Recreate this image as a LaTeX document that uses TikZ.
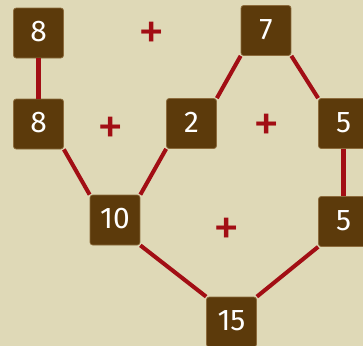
\documentclass[tikz,border=0pt]{standalone}
\usepackage{fontspec}
\setmainfont{Fira Sans}
\usepackage{tikz}

\begin{document}
\begin{tikzpicture}[x=0.02cm, y=-0.02cm]

% Colori
\definecolor{colSfondo}{HTML}{DFD9B7}
\definecolor{colCasella}{HTML}{5C3A0B}
\definecolor{colBordo}{HTML}{8C6B3C}
\definecolor{colRosso}{HTML}{A20E14}

\tikzset{
  casella/.style={fill=colCasella, draw=colBordo, line width=0.4pt, rounded corners=1.5pt,
    minimum width=1cm, minimum height=1cm, inner sep=0pt, text=white,
    text height=1em, font=\fontsize{17}{20}\selectfont},
  ramo/.style={draw=colRosso, line width=2.3pt},
  piu/.style={text=colRosso, font=\fontsize{30}{34}\selectfont, inner sep=0pt}
}

% Sfondo
\fill[colSfondo] (0,0) rectangle (363,346);
\useasboundingbox (0,0) rectangle (363,346);
\clip (0,0) rectangle (363,346);

% Caselle
\node[casella] (otto1) at (38.5,33) {8};
\node[casella] (otto2) at (38.5,124) {8};
\node[casella] (due) at (191.5,123.5) {2};
\node[casella] (sette) at (266,30.5) {7};
\node[casella] (cinque1) at (343.5,123.5) {5};
\node[casella] (dieci) at (115,220) {10};
\node[casella] (cinque2) at (343.5,221.5) {5};
\node[casella] (quindici) at (231.5,322) {15};

% Rami
\draw[ramo] (otto1.south) -- (otto2.north);
\draw[ramo] (otto2.south east) -- (dieci.north west);
\draw[ramo] (due.south west) -- (dieci.north east);
\draw[ramo] (sette.south west) -- (due.north east);
\draw[ramo] (sette.south east) -- (cinque1.north west);
\draw[ramo] (cinque1.south) -- (cinque2.north);
\draw[ramo] (dieci.south east) -- (quindici.north west);
\draw[ramo] (cinque2.south west) -- (quindici.north east);

% Segni piu'
\node[piu] (p1) at (152,36) {+};
\node[piu] (p2) at (111,131) {+};
\node[piu] (p3) at (267,128) {+};
\node[piu] (p4) at (227,232) {+};

\end{tikzpicture}
\end{document}
